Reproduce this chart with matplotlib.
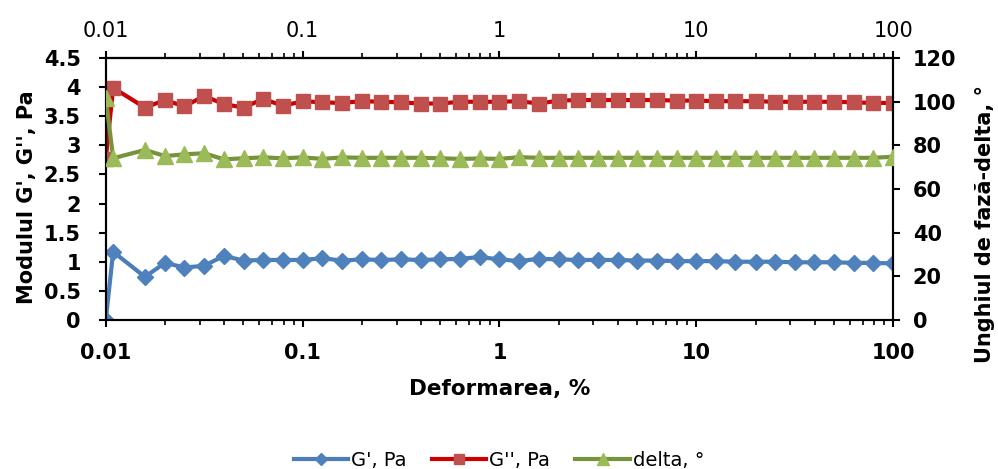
import numpy as np
import matplotlib.pyplot as plt
from matplotlib.ticker import FixedLocator, FixedFormatter, LogLocator, NullFormatter

plt.rcParams['font.family'] = ['DejaVu Sans']

# deformatia (%) - primele doua puncte apoi 10 puncte pe decada
deformare = [0.01, 0.0109, 0.0158, 0.02, 0.0251, 0.0316, 0.0398, 0.0501, 0.0631, 0.0794,
             0.1, 0.126, 0.158, 0.2, 0.251, 0.316, 0.398, 0.501, 0.631, 0.794,
             1.0, 1.26, 1.58, 2.0, 2.51, 3.16, 3.98, 5.01, 6.31, 7.94,
             10.0, 12.6, 15.8, 20.0, 25.1, 31.6, 39.8, 50.1, 63.1, 79.4, 100.0]

g1 = [0.0, 1.17, 0.74, 0.98, 0.90, 0.93, 1.10, 1.02, 1.03, 1.03,
      1.03, 1.06, 1.02, 1.04, 1.03, 1.04, 1.03, 1.04, 1.05, 1.08,
      1.04, 1.01, 1.05, 1.04, 1.03, 1.03, 1.03, 1.02, 1.02, 1.01,
      1.01, 1.01, 1.00, 1.00, 1.00, 0.99, 0.99, 0.99, 0.98, 0.98, 0.97]

g2 = [2.77, 3.99, 3.65, 3.78, 3.67, 3.85, 3.71, 3.65, 3.80, 3.68,
      3.76, 3.74, 3.73, 3.76, 3.75, 3.74, 3.72, 3.72, 3.75, 3.75,
      3.75, 3.76, 3.72, 3.77, 3.78, 3.78, 3.78, 3.78, 3.78, 3.77,
      3.77, 3.76, 3.76, 3.76, 3.75, 3.75, 3.75, 3.75, 3.74, 3.73, 3.73]

delta = [101.7, 74.1, 77.9, 75.1, 75.9, 76.4, 73.6, 74.1, 74.5, 74.1,
         74.5, 73.8, 74.5, 74.3, 74.3, 74.3, 74.3, 74.1, 73.8, 74.0,
         73.8, 74.6, 74.3, 74.3, 74.3, 74.3, 74.3, 74.3, 74.3, 74.3,
         74.3, 74.3, 74.3, 74.3, 74.3, 74.3, 74.3, 74.3, 74.3, 74.3, 74.8]

xticks = [0.01, 0.1, 1, 10, 100]
xlabels = ['0.01', '0.1', '1', '10', '100']

fig = plt.figure(figsize=(9.98, 4.69), dpi=100)
ax = fig.add_axes([0.106, 0.318, 0.789, 0.558])
ax2 = ax.twinx()

l1, = ax.plot(deformare, g1, color='#4a7ebb', lw=3, marker='D', ms=8,
              mfc='#4f81bd', mec='#4f81bd', label="G', Pa", zorder=3)
l2, = ax.plot(deformare, g2, color='#cc0000', lw=3, marker='s', ms=10,
              mfc='#c0504d', mec='#c0504d', label="G'', Pa", zorder=3)
l3, = ax2.plot(deformare, delta, color='#77933c', lw=3, marker='^', ms=11,
               mfc='#9bbb59', mec='#9bbb59', label='delta, °', zorder=3)

ax.set_xscale('log')
ax.set_xlim(0.01, 100)
ax.set_ylim(0, 4.5)
ax.set_yticks(np.arange(0, 4.51, 0.5))
ax.set_yticklabels(['0', '0.5', '1', '1.5', '2', '2.5', '3', '3.5', '4', '4.5'])
ax2.set_ylim(0, 120)
ax2.set_yticks(range(0, 121, 20))

ax.xaxis.set_major_locator(FixedLocator(xticks))
ax.xaxis.set_major_formatter(FixedFormatter(xlabels))
ax.xaxis.set_minor_locator(LogLocator(base=10, subs=np.arange(2, 10)))
ax.xaxis.set_minor_formatter(NullFormatter())

# axa de sus - aceeasi scala
top = ax.secondary_xaxis('top')
top.xaxis.set_major_locator(FixedLocator(xticks))
top.xaxis.set_major_formatter(FixedFormatter(xlabels))
top.xaxis.set_minor_locator(LogLocator(base=10, subs=np.arange(2, 10)))
top.xaxis.set_minor_formatter(NullFormatter())

for a in (ax, ax2):
    for s in a.spines.values():
        s.set_linewidth(1.5)
top.spines['top'].set_linewidth(1.5)

fs = 15
ax.tick_params(axis='x', which='major', labelsize=fs, width=1.5, length=5, pad=12)
ax.tick_params(axis='y', which='major', labelsize=fs, width=1.5, length=5, pad=13)
ax.tick_params(axis='x', which='minor', width=1.2, length=3.5)
ax2.tick_params(axis='y', labelsize=fs, width=1.5, length=5, pad=9)
top.tick_params(which='major', labelsize=fs, width=1.5, length=5, pad=7)
top.tick_params(which='minor', width=1.2, length=3.5)

for lab in ax.get_xticklabels() + ax.get_yticklabels() + ax2.get_yticklabels():
    lab.set_fontweight('bold')

# titluri axe
ax.set_xlabel('Deformarea, %', fontsize=15.5, fontweight='bold')
ax.xaxis.set_label_coords(0.5, -0.265, transform=ax.transAxes)
ax.xaxis.label.set_va('center')
fig.text(27 / 998, 1 - 197 / 469, "Modulul G', G'', Pa", rotation=90,
         ha='center', va='center', fontsize=fs, fontweight='bold')
fig.text(985 / 998, 1 - 224 / 469, 'Unghiul de fază-delta, °', rotation=90,
         ha='center', va='center', fontsize=fs, fontweight='bold')

fig.legend(handles=[l1, l2, l3], loc='center', bbox_to_anchor=(0.5, 1 - 460 / 469),
           ncol=3, frameon=False, fontsize=14, markerscale=0.75,
           handlelength=2.8, columnspacing=1.3, handletextpad=0.15,
           borderaxespad=0, borderpad=0)

fig.savefig('out.png', dpi=100)
